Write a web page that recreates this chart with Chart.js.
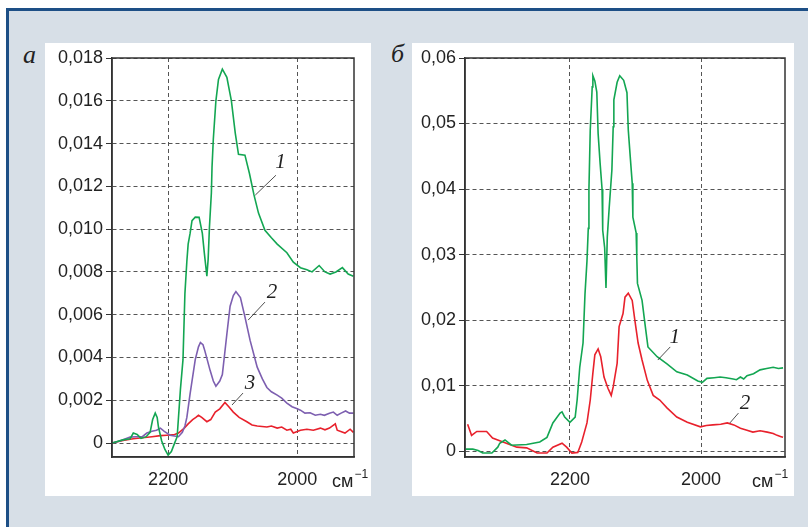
<!DOCTYPE html>
<html>
<head>
<meta charset="utf-8">
<script src="https://cdn.jsdelivr.net/npm/chart.js@4.4.1/dist/chart.umd.min.js"></script>
<style>
  body { margin: 0; width: 808px; height: 527px; background: #fff; position: relative; overflow: hidden; }
  #frame { position: absolute; left: 6px; top: 8px; width: 802px; height: 519px; background: #d7dfe7;
           border-top: 3px solid #1d4f86; border-left: 3px solid #1d4f86; box-sizing: border-box; }
  .panel { position: absolute; background: #fff; }
  .tag { position: absolute; font: italic 26px "Liberation Serif", "DejaVu Serif", serif; color: #222; line-height: 1; }
</style>
</head>
<body>
<div id="frame"></div>
<div class="panel" style="left:45px;top:43px;width:326px;height:453px"><canvas id="chartA" width="326" height="453"></canvas></div>
<div class="panel" style="left:412px;top:43px;width:382px;height:453px"><canvas id="chartB" width="382" height="453"></canvas></div>
<span class="tag" style="left:23px;top:42px">а</span>
<span class="tag" style="left:391px;top:41px">б</span>

<script>
// ---- panel а ----
const wnA1 = [2287, 2270, 2259, 2254, 2248, 2242, 2234, 2228, 2224, 2220, 2217, 2215, 2210, 2205, 2200, 2195, 2190, 2186, 2181, 2177, 2174, 2171, 2169, 2166, 2163, 2158, 2152, 2147, 2144, 2140, 2138, 2136, 2133, 2132, 2130, 2126, 2122, 2116, 2109, 2102, 2096, 2091, 2081, 2074, 2067, 2060, 2050, 2040, 2031, 2016, 2006, 1995, 1985, 1977, 1966, 1957, 1949, 1940, 1930, 1921, 1913];
const absA1 = [0, 0.00015, 0.0002, 0.00047, 0.0004, 0.00022, 0.0003, 0.0005, 0.0011, 0.0014, 0.0012, 0.00075, 0.0001, -0.0003, -0.00056, -0.0004, 0, 0.0003, 0.0025, 0.0039, 0.007, 0.0085, 0.0093, 0.0098, 0.0104, 0.01056, 0.01055, 0.0098, 0.0089, 0.0078, 0.0086, 0.0101, 0.0117, 0.0129, 0.0142, 0.016, 0.017, 0.01748, 0.0171, 0.016, 0.01449, 0.0135, 0.01346, 0.0126, 0.0116, 0.01075, 0.00995, 0.0096, 0.0093, 0.0089, 0.00846, 0.0082, 0.0081, 0.008, 0.0083, 0.008, 0.0079, 0.008, 0.0082, 0.0079, 0.0078];

const wnA2 = [2287, 2275, 2259, 2250, 2240, 2233, 2225, 2218, 2212, 2206, 2197, 2184, 2178, 2174, 2171, 2166, 2158, 2153, 2150, 2146, 2143, 2135, 2130, 2126, 2120, 2116, 2109, 2104, 2099, 2095, 2088, 2081, 2073, 2062, 2054, 2047, 2040, 2031, 2024, 2016, 2008, 2000, 1995, 1988, 1980, 1972, 1964, 1958, 1950, 1944, 1938, 1932, 1925, 1919, 1913];
const absA2 = [0, 0.0001, 0.00028, 0.0003, 0.0003, 0.00047, 0.00055, 0.0006, 0.0007, 0.00055, 0.00037, 0.0003, 0.0005, 0.0008, 0.0012, 0.0023, 0.0039, 0.0045, 0.0047, 0.0046, 0.0043, 0.0034, 0.0029, 0.00266, 0.0029, 0.0032, 0.0051, 0.0064, 0.0069, 0.00708, 0.0068, 0.0059, 0.0048, 0.00355, 0.003, 0.0026, 0.0024, 0.00224, 0.0021, 0.00187, 0.0017, 0.0016, 0.00154, 0.0014, 0.00142, 0.0013, 0.00135, 0.0013, 0.0014, 0.00145, 0.0013, 0.0014, 0.0015, 0.0014, 0.0014];

const wnA3 = [2287, 2270, 2254, 2240, 2225, 2212, 2202, 2190, 2184, 2175, 2169, 2162, 2157, 2153, 2148, 2140, 2134, 2127, 2120, 2112, 2106, 2099, 2090, 2078, 2070, 2062, 2047, 2040, 2031, 2024, 2016, 2010, 2006, 1995, 1985, 1975, 1964, 1957, 1950, 1941, 1938, 1926, 1918, 1913];
const absA3 = [0, 0.00012, 0.0002, 0.00025, 0.0003, 0.00035, 0.00037, 0.0004, 0.00047, 0.0007, 0.0009, 0.0011, 0.0012, 0.0013, 0.0012, 0.001, 0.0011, 0.00145, 0.0016, 0.0019, 0.0017, 0.00145, 0.0012, 0.001, 0.00085, 0.0008, 0.00075, 0.0008, 0.0007, 0.00075, 0.0006, 0.00065, 0.00047, 0.0006, 0.00065, 0.0006, 0.0007, 0.00062, 0.0007, 0.0009, 0.0006, 0.00047, 0.00065, 0.0005];

const yTicksA = [0, 0.002, 0.004, 0.006, 0.008, 0.010, 0.012, 0.014, 0.016, 0.018];

// ---- panel б ----
const wnB1 = [2359, 2348, 2340, 2333, 2319, 2310, 2307, 2299, 2289, 2266, 2246, 2235, 2226, 2215, 2212, 2208, 2200, 2192, 2189, 2185, 2180, 2177, 2174, 2172, 2171, 2169, 2166, 2165, 2162, 2159, 2157, 2154, 2151, 2150, 2147, 2145, 2143, 2140, 2136, 2134, 2133, 2128, 2124, 2118, 2113, 2111, 2108, 2105, 2104, 2099, 2098, 2097, 2090, 2085, 2081, 2067, 2052, 2037, 2021, 2005, 1998, 1991, 1980, 1971, 1962, 1951, 1946, 1940, 1935, 1930, 1920, 1910, 1900, 1890, 1882, 1875];
const absB1 = [0.0003, 0.0003, 0.0001, -0.0003, -0.0003, 0.0006, 0.0012, 0.0017, 0.0009, 0.001, 0.0014, 0.0021, 0.0043, 0.0058, 0.006, 0.0052, 0.0044, 0.0052, 0.0078, 0.0128, 0.0165, 0.024, 0.029, 0.034, 0.040, 0.049, 0.0556, 0.0573, 0.0565, 0.0548, 0.0485, 0.044, 0.040, 0.0337, 0.031, 0.0249, 0.0327, 0.0373, 0.0429, 0.0495, 0.0536, 0.0563, 0.0573, 0.0566, 0.0547, 0.049, 0.0449, 0.0409, 0.0357, 0.0333, 0.0296, 0.0256, 0.023, 0.019, 0.0159, 0.0144, 0.0133, 0.0121, 0.0116, 0.0107, 0.0105, 0.0111, 0.0112, 0.0113, 0.0112, 0.011, 0.0109, 0.0113, 0.011, 0.0115, 0.0118, 0.0124, 0.0126, 0.0128, 0.0126, 0.0127];

const wnB2 = [2356, 2350, 2342, 2327, 2318, 2302, 2281, 2266, 2250, 2235, 2226, 2212, 2205, 2197, 2188, 2182, 2174, 2169, 2165, 2162, 2157, 2153, 2148, 2142, 2137, 2134, 2128, 2125, 2119, 2116, 2111, 2105, 2101, 2096, 2090, 2082, 2073, 2063, 2052, 2037, 2021, 2001, 1992, 1982, 1970, 1960, 1950, 1940, 1930, 1921, 1910, 1899, 1890, 1884, 1878, 1875];
const absB2 = [0.0041, 0.0024, 0.003, 0.003, 0.002, 0.0014, 0.0006, 0.0005, -0.0003, -0.0003, 0.0006, 0.0012, 0.0006, -0.0003, -0.0002, 0.0014, 0.0043, 0.0078, 0.0119, 0.0147, 0.0156, 0.0144, 0.0113, 0.0096, 0.0085, 0.0098, 0.0134, 0.019, 0.021, 0.0235, 0.0241, 0.023, 0.020, 0.0165, 0.0139, 0.0108, 0.0085, 0.0078, 0.0066, 0.0052, 0.0044, 0.0037, 0.0039, 0.004, 0.0041, 0.0043, 0.004, 0.0035, 0.0032, 0.0029, 0.0031, 0.0029, 0.0027, 0.0024, 0.0022, 0.0021];

const yTicksB = [0, 0.01, 0.02, 0.03, 0.04, 0.05, 0.06];
const xTicks = [2200, 2000];

// curve numbers: text position and leader line, in data units
const notesA = [
  { t: '1', x: 2026, y: 0.01313, x1: 2033, y1: 0.01252, x2: 2065, y2: 0.01159 },
  { t: '2', x: 2039, y: 0.00706, x1: 2050, y1: 0.00659, x2: 2076, y2: 0.00575 },
  { t: '3', x: 2073, y: 0.0028,  x1: 2084, y1: 0.00234, x2: 2101, y2: 0.00178 }
];
const notesB = [
  { t: '1', x: 2040, y: 0.0174, x1: 2047, y1: 0.0159, x2: 2066, y2: 0.0139 },
  { t: '2', x: 1933, y: 0.0073, x1: 1943, y1: 0.0058, x2: 1956, y2: 0.0043 }
];

const GREEN = '#13a652', PURPLE = '#7d5fb0', RED = '#e8212c';

const pts = (xs, ys) => xs.map((x, i) => ({ x: x, y: ys[i] }));

const decor = {
  id: 'decor',
  afterDraw(chart) {
    const { ctx, chartArea: a, scales: { x, y } } = chart;
    const opt = chart.options.plugins.decor;
    ctx.save();
    // frame round the plot
    ctx.strokeStyle = '#333';
    ctx.lineWidth = 1.5;
    ctx.strokeRect(a.left, a.top, a.right - a.left, a.bottom - a.top);
    // curve numbers
    ctx.fillStyle = '#222';
    ctx.strokeStyle = '#222';
    ctx.lineWidth = 0.8;
    ctx.font = 'italic 21px "Liberation Serif", serif';
    ctx.textAlign = 'center';
    ctx.textBaseline = 'middle';
    opt.notes.forEach(n => {
      ctx.fillText(n.t, x.getPixelForValue(n.x), y.getPixelForValue(n.y));
      ctx.beginPath();
      ctx.moveTo(x.getPixelForValue(n.x1), y.getPixelForValue(n.y1));
      ctx.lineTo(x.getPixelForValue(n.x2), y.getPixelForValue(n.y2));
      ctx.stroke();
    });
    // unit
    ctx.textAlign = 'left';
    ctx.textBaseline = 'alphabetic';
    ctx.font = '18px "Liberation Sans", Arial, sans-serif';
    const ux = a.right - opt.unitOffset;
    ctx.fillText('см', ux, 444);
    const w = ctx.measureText('см').width;
    ctx.font = '12px "Liberation Sans", Arial, sans-serif';
    ctx.fillText('−1', ux + w + 1, 435);
    ctx.restore();
  }
};

function makeChart(id, datasets, xMin, xMax, yMin, yMax, yTicks, fmt, yWidth, padRight, notes, unitOffset) {
  return new Chart(document.getElementById(id).getContext('2d'), {
    type: 'line',
    data: { datasets: datasets },
    options: {
      responsive: false,
      animation: false,
      layout: { padding: { top: 15, right: padRight, left: 0, bottom: 0 } },
      elements: { point: { radius: 0 }, line: { borderWidth: 1.6, tension: 0 } },
      plugins: {
        legend: { display: false },
        tooltip: { enabled: false },
        decor: { notes: notes, unitOffset: unitOffset }
      },
      scales: {
        x: {
          type: 'linear', reverse: true, min: xMin, max: xMax,
          afterBuildTicks: s => { s.ticks = xTicks.map(v => ({ value: v })); },
          afterFit: s => { s.height = 39; },
          ticks: { color: '#222', padding: 12, font: { family: '"Liberation Sans", Arial, sans-serif', size: 18 }, callback: v => String(v) },
          grid: { color: '#555', lineWidth: 1, drawTicks: false },
          border: { color: '#333', width: 1.5, dash: [4, 3] }
        },
        y: {
          min: yMin, max: yMax,
          afterBuildTicks: s => { s.ticks = yTicks.map(v => ({ value: v })); },
          afterFit: s => { s.width = yWidth; },
          ticks: { color: '#222', padding: 3, font: { family: '"Liberation Sans", Arial, sans-serif', size: 18 }, callback: fmt },
          grid: { color: '#555', lineWidth: 1, tickLength: 6, tickColor: '#333', tickBorderDash: [] },
          border: { color: '#333', width: 1.5, dash: [4, 3] }
        }
      }
    },
    plugins: [decor]
  });
}

makeChart('chartA', [
  { data: pts(wnA1, absA1), borderColor: GREEN },
  { data: pts(wnA2, absA2), borderColor: PURPLE },
  { data: pts(wnA3, absA3), borderColor: RED }
], 1912, 2287, -0.00065, 0.018, yTicksA,
  v => v === 0 ? '0' : v.toFixed(3).replace('.', ','), 67, 17, notesA, 22);

makeChart('chartB', [
  { data: pts(wnB1, absB1), borderColor: GREEN },
  { data: pts(wnB2, absB2), borderColor: RED }
], 1872, 2360, -0.0009, 0.06, yTicksB,
  v => v === 0 ? '0' : v.toFixed(2).replace('.', ','), 53, 9, notesB, 33);
</script>
</body>
</html>
